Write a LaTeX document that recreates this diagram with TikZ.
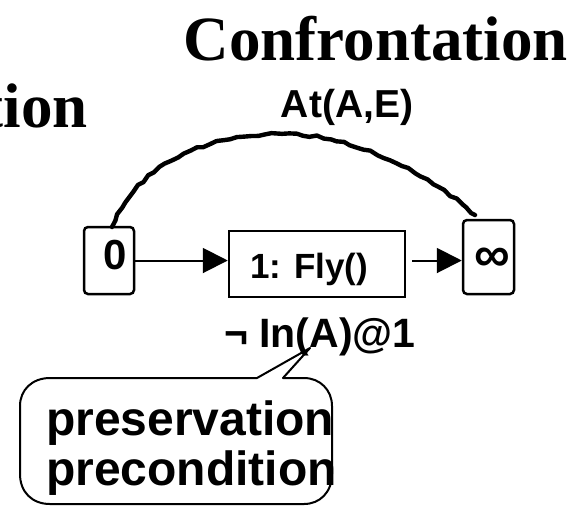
\documentclass[tikz,border=0pt]{standalone}
\usepackage{fontspec}
\setmainfont{Liberation Sans}
\newfontfamily\headserif{Liberation Serif}
\usetikzlibrary{arrows.meta,decorations.pathmorphing}

\tikzset{
  heading/.style={font=\headserif\bfseries\fontsize{63}{70}\selectfont, inner sep=0pt},
  stepbox/.style={draw, line width=2.5pt, inner sep=0pt},
  flow/.style={line width=2pt, -{Triangle[length=25pt,width=25pt]}},
  wobbly/.style={line width=4.4pt, line cap=round, line join=round,
    decorate, decoration={random steps, segment length=7pt, amplitude=1.2pt}},
  callout/.style={draw, line width=2pt, line join=round},
  bold/.style={font=\bfseries\fontsize{#1}{#1}\selectfont, inner sep=0pt},
}

\begin{document}
\begin{tikzpicture}[x=1pt, y=-1pt]
  \useasboundingbox[fill=white] (0,0) rectangle (583,507);
  \clip (0,0) rectangle (583,507);

  % headings
  \node[heading, anchor=base east] (title) at (568,60) {Confrontation};
  \node[heading, anchor=base east] (titleL) at (88,127) {tion};

  % steps of the plan
  \node[stepbox, rounded corners=4pt, minimum width=50pt, minimum height=67pt] (n0) at (109,260.5) {};
  \node[bold=42, anchor=center] (n0t) at (115,255) {0};
  \node[stepbox, minimum width=176pt, minimum height=66pt] (fly) at (317,264) {};
  \node[bold=35, anchor=base west] (flyt) at (250,278) {1: Fly()};
  \node[stepbox, rounded corners=4pt, minimum width=51pt, minimum height=74pt] (inf) at (488.5,257) {};
  \node[bold=50, anchor=center] (inft) at (492,260) {∞};

  % ordering arrows
  \draw[flow] (n0.east) -- (n0.east -| fly.west);
  \draw[flow] ([xshift=6pt]fly.east |- n0.east) -- (inf.west |- n0.east);

  % causal link
  \coordinate (linkS) at (112,227);
  \coordinate (linkTop) at (282,134);
  \coordinate (linkE) at (475,215);
  \draw[wobbly] (linkS) .. controls (135,168) and (200,134) .. (linkTop)
                        .. controls (362,134) and (435,180) .. (linkE);
  \node[bold=39, anchor=base] (cond) at (347,117) {At(A,E)};

  % threat label
  \node[bold=41, anchor=base west] (threat) at (224,347) {¬ In(A)@1};

  % callout
  \coordinate (tip) at (310,348);
  \draw[callout] (50,378) -- (257,378) -- (tip) -- (283,378) -- (304,378)
    .. controls (320,378) and (332,390) .. (332,406) -- (332,474)
    .. controls (332,492) and (320,504) .. (304,504) -- (50,504)
    .. controls (32,504) and (20,492) .. (20,474) -- (20,406)
    .. controls (20,390) and (32,378) .. (50,378) -- cycle;
  \node[bold=48, anchor=base west] (note1) at (46,435) {preservation};
  \node[bold=48, anchor=base west] (note2) at (46,485) {precondition};
\end{tikzpicture}
\end{document}
